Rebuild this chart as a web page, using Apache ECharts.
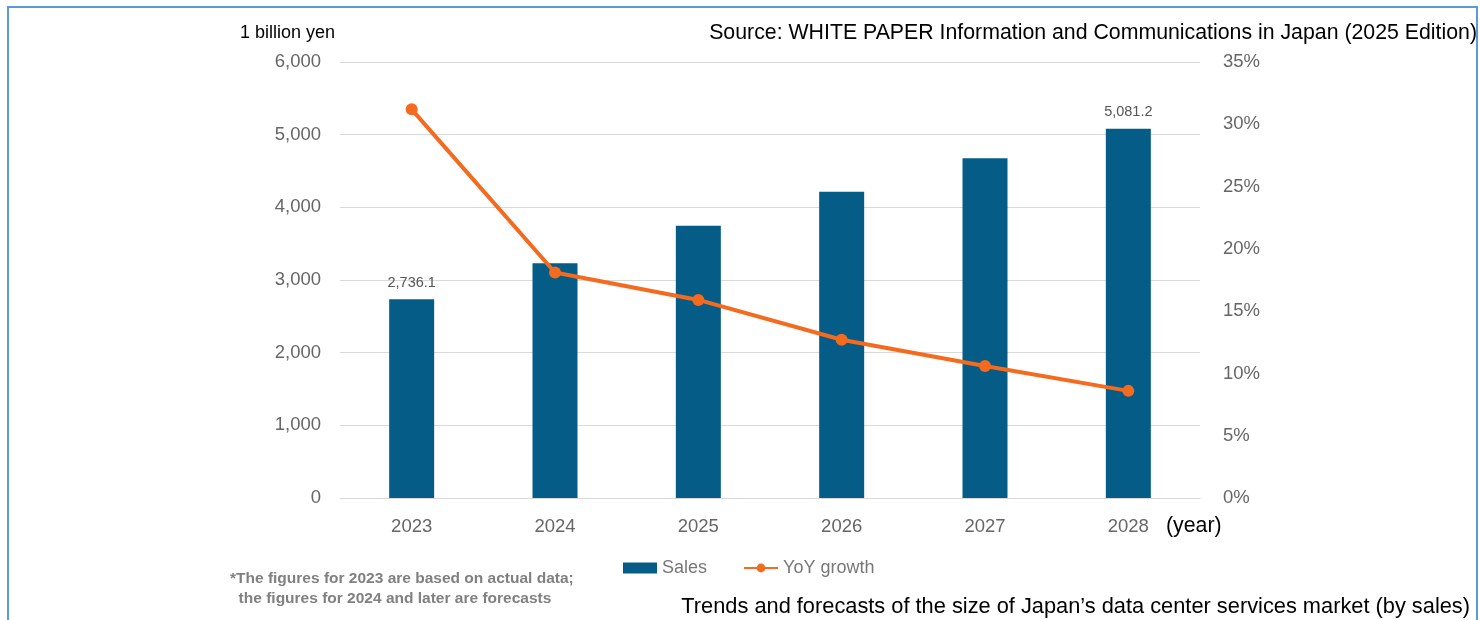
<!DOCTYPE html>
<html>
<head>
<meta charset="utf-8">
<script src="https://cdn.jsdelivr.net/npm/echarts@6/dist/echarts.min.js"></script>
<style>
html,body{margin:0;padding:0;background:#fff;}
#chart{width:1480px;height:620px;}
</style>
</head>
<body>
<div id="chart"></div>
<script>
const years = ['2023', '2024', '2025', '2026', '2027', '2028'];
const sales = [2736.1, 3230, 3745, 4215, 4675, 5081.2];
const yoyGrowth = [31.2, 18.1, 15.9, 12.7, 10.6, 8.6];
const labeledIdx = [0, 5];

const FF = 'Liberation Sans, Arial, sans-serif';
const chart = echarts.init(document.getElementById('chart'));
const axisFont = {color: '#666', fontSize: 18.5, fontFamily: FF};
chart.setOption({
  animation: false,
  textStyle: {fontFamily: FF},
  grid: {left: 340, right: 280, top: 62, bottom: 122, containLabel: false},
  legend: {
    data: [{name: 'Sales', icon: 'rect'}, {name: 'YoY growth'}],
    left: 618, top: 554, itemGap: 36, itemWidth: 34, itemHeight: 11,
    textStyle: {color: '#777', fontSize: 18}
  },
  xAxis: {
    type: 'category', data: years,
    axisLine: {show: true, lineStyle: {color: '#d9d9d9'}},
    axisTick: {show: false},
    axisLabel: Object.assign({margin: 19}, axisFont)
  },
  yAxis: [{
    type: 'value', min: 0, max: 6000, interval: 1000,
    axisLine: {show: false}, axisTick: {show: false},
    splitLine: {lineStyle: {color: '#d9d9d9', width: 1}},
    axisLabel: Object.assign({margin: 19, formatter: v => v.toLocaleString('en-US')}, axisFont)
  }, {
    type: 'value', min: 0, max: 35, interval: 5,
    axisLine: {show: false}, axisTick: {show: false},
    splitLine: {show: false},
    axisLabel: Object.assign({margin: 23, formatter: '{value}%'}, axisFont)
  }],
  series: [{
    name: 'Sales', type: 'bar', data: sales.map((v, i) => ({
      value: v,
      label: {show: labeledIdx.includes(i)}
    })),
    barWidth: 45,
    itemStyle: {color: '#055c87'},
    label: {
      position: 'top', distance: 9, color: '#555', fontSize: 14.5,
      formatter: p => p.value.toLocaleString('en-US', {minimumFractionDigits: 1, maximumFractionDigits: 1})
    }
  }, {
    name: 'YoY growth', type: 'line', yAxisIndex: 1, data: yoyGrowth,
    symbol: 'circle', symbolSize: 12,
    lineStyle: {color: '#f46a1f', width: 4},
    itemStyle: {color: '#f46a1f'}
  }],
  graphic: [
    {type: 'rect', shape: {x: 8, y: 7, width: 1469, height: 640}, style: {fill: 'none', stroke: '#5b9bd5', lineWidth: 2}},
    {type: 'text', left: 240, top: 24, style: {text: '1 billion yen', fontSize: 18, fill: '#000', fontFamily: FF}},
    {type: 'text', right: 3, top: 23, style: {text: 'Source: WHITE PAPER Information and Communications in Japan (2025 Edition)', fontSize: 21.3, fill: '#000', fontFamily: FF}},
    {type: 'text', left: 1166, top: 516, style: {text: '(year)', fontSize: 21.3, fill: '#000', fontFamily: FF}},
    {type: 'text', left: 230, top: 569, style: {text: '*The figures for 2023 are based on actual data;\n  the figures for 2024 and later are forecasts', fontSize: 15.5, lineHeight: 20, fontWeight: 'bold', fill: '#808080', fontFamily: FF}},
    {type: 'text', right: 10, top: 596, style: {text: 'Trends and forecasts of the size of Japan\u2019s data center services market (by sales)', fontSize: 21.8, fill: '#000', fontFamily: FF}}
  ]
});
</script>
</body>
</html>
